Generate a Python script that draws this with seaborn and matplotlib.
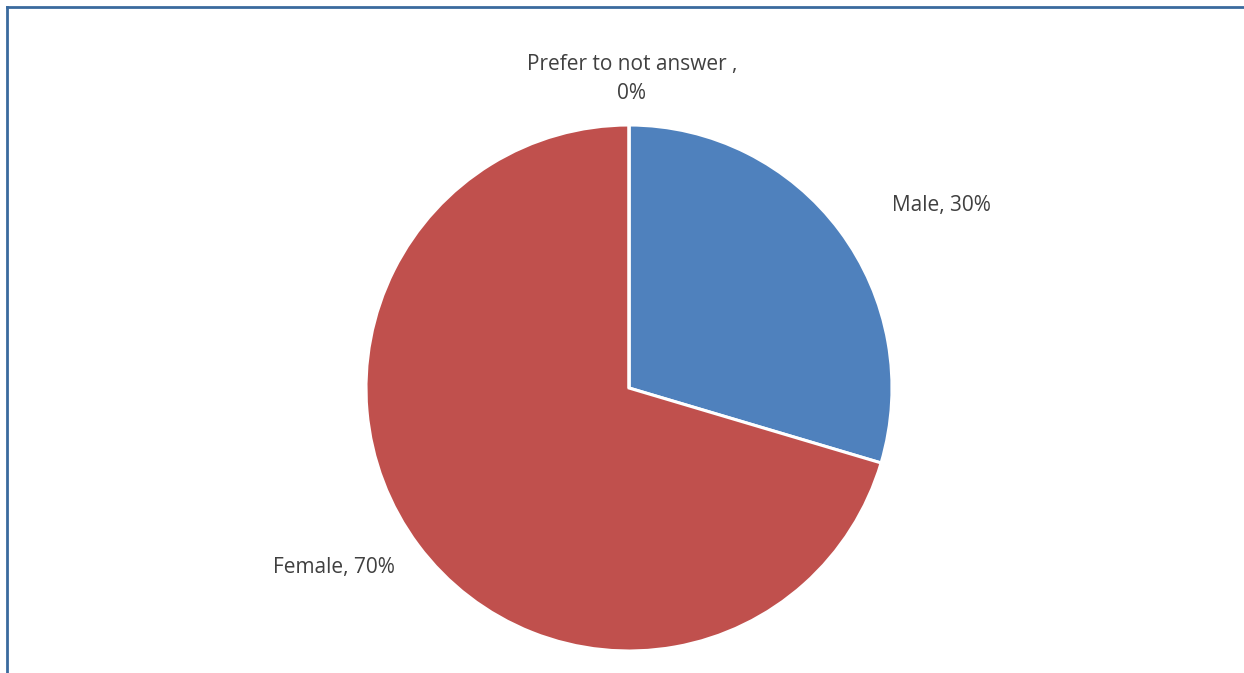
import matplotlib
matplotlib.use("Agg")
import matplotlib.pyplot as plt
import seaborn as sns

categories = ["Male", "Female", "Prefer to not answer "]
values = [29.6, 70.4, 0.0]
colors = ["#4F81BD", "#C0504D", "#9BBB59"]

sns.set_theme(style="white")
plt.rcParams["font.family"] = ["Open Sans", "DejaVu Sans"]

W, H = 1244, 673
fig = plt.figure(figsize=(W / 100, H / 100), dpi=100)
ax = fig.add_axes([0, 0, 1, 1])

cx, cy, r = 629, H - 388, 263
ax.pie(values, colors=colors, startangle=90, counterclock=False,
       center=(cx, cy), radius=r, frame=True,
       wedgeprops=dict(edgecolor="white", linewidth=2.2))
ax.set_xlim(0, W)
ax.set_ylim(0, H)
ax.set_aspect("equal")
ax.axis("off")

txt = dict(color="#404040", fontsize=15, ha="center", va="center")
pct = [f"{round(v):.0f}%" for v in values]
ax.text(941, H - 206, f"{categories[0]}, {pct[0]}", **txt)
ax.text(334, H - 568, f"{categories[1]}, {pct[1]}", **txt)
ax.text(632, H - 79, f"{categories[2]},\n{pct[2]}", linespacing=1.5, **txt)

# frame (top and left edges)
bc = "#3A6A9E"
ax.plot([7, 7], [-5, H - 7], color=bc, lw=2, solid_capstyle="projecting", clip_on=False)
ax.plot([7, W + 5], [H - 7, H - 7], color=bc, lw=2, solid_capstyle="projecting", clip_on=False)

fig.savefig("out.png", dpi=100, facecolor="white")
